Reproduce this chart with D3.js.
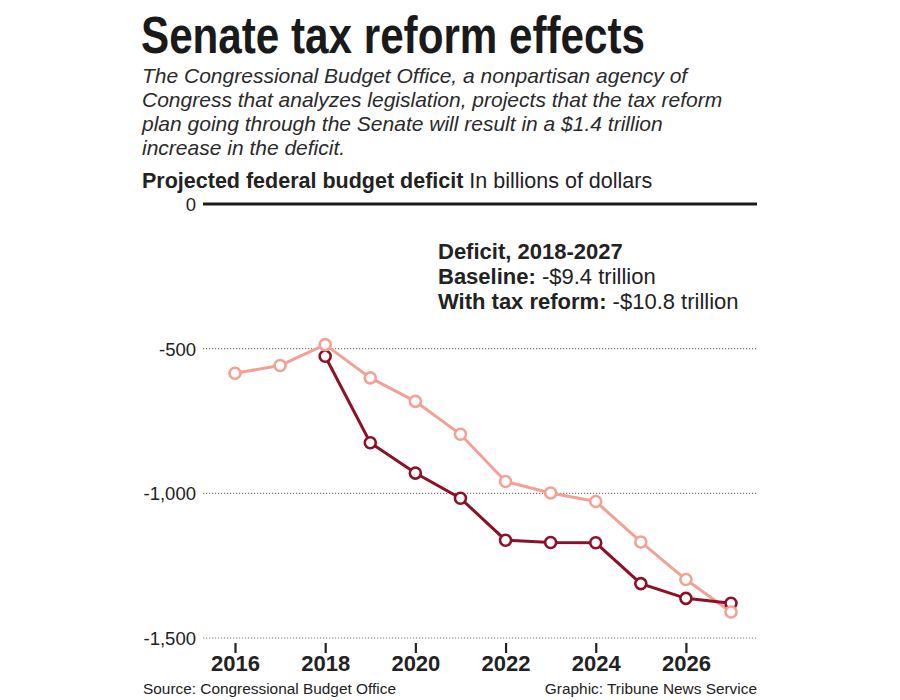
<!DOCTYPE html>
<html>
<head>
<meta charset="utf-8">
<script src="https://cdn.jsdelivr.net/npm/d3@7"></script>
<style>
  html, body { margin: 0; padding: 0; background: #fff; }
  svg { display: block; }
  text { font-family: "Liberation Sans", Arial, sans-serif; fill: #222; }
</style>
</head>
<body>
<svg id="chart" width="900" height="700"></svg>
<script>
const years = [2016, 2017, 2018, 2019, 2020, 2021, 2022, 2023, 2024, 2025, 2026, 2027];
const baseline = [-585, -558, -486, -601, -682, -796, -959, -999, -1028, -1168, -1298, -1410];
const reformYears = [2018, 2019, 2020, 2021, 2022, 2023, 2024, 2025, 2026, 2027];
const reform = [-526, -825, -930, -1017, -1162, -1170, -1171, -1312, -1363, -1380];
const yTicks = [0, -500, -1000, -1500];
const xTicks = [2016, 2018, 2020, 2022, 2024, 2026];

const titleText = "Senate tax reform effects";
const subtitleLines = [
  "The Congressional Budget Office, a nonpartisan agency of",
  "Congress that analyzes legislation, projects that the tax reform",
  "plan going through the Senate will result in a $1.4 trillion",
  "increase in the deficit."
];
const colLight = "#f2a195";
const colDark = "#8c1127";

const svg = d3.select("#chart");

// Title
svg.append("text")
  .attr("x", 141).attr("y", 53)
  .attr("textLength", 504).attr("lengthAdjust", "spacingAndGlyphs")
  .style("font-family", "'Liberation Sans Narrow', 'Liberation Sans', Arial, sans-serif")
  .style("font-weight", "bold").style("font-size", "52px").style("fill", "#1a1a1a")
  .text(titleText);

// Subtitle
svg.append("g").selectAll("text").data(subtitleLines).join("text")
  .attr("x", 142).attr("y", (d, i) => 83 + i * 24)
  .style("font-style", "italic").style("font-size", "21px").style("fill", "#2a2a2a")
  .text(d => d);

// Chart label
const lab = svg.append("text").attr("x", 142).attr("y", 188).style("font-size", "21.5px");
lab.append("tspan").style("font-weight", "bold").text("Projected federal budget deficit");
lab.append("tspan").text(" In billions of dollars");

// Scales
const x = d3.scaleLinear().domain([2016, 2027]).range([235, 731]);
const y = d3.scaleLinear().domain([-1500, 0]).range([638, 204]);

// Y axis
const yAxis = d3.axisLeft(y).tickValues(yTicks).tickSize(0).tickPadding(0)
  .tickFormat(d => d === 0 ? "0" : d3.format(",")(d).replace("−", "-"));
const yg = svg.append("g").attr("transform", "translate(196,0)").call(yAxis);
yg.select(".domain").remove();
yg.selectAll("text").style("font-size", "18.5px").style("font-family", "'Liberation Sans', Arial, sans-serif").attr("fill", "#222").attr("dy", "0.35em");

svg.append("g").selectAll("line").data(yTicks.filter(d => d !== 0)).join("line")
  .attr("x1", 203).attr("x2", 757)
  .attr("y1", d => y(d)).attr("y2", d => y(d))
  .attr("stroke", "#777").attr("stroke-width", 1.2).attr("stroke-dasharray", "1.2,1.8");

svg.append("line")
  .attr("x1", 203).attr("x2", 757).attr("y1", y(0)).attr("y2", y(0))
  .attr("stroke", "#1a1a1a").attr("stroke-width", 3);

// X axis
const xAxis = d3.axisBottom(x).tickValues(xTicks).tickFormat(d3.format("d")).tickSize(10).tickPadding(2);
const xg = svg.append("g").attr("transform", `translate(0,${y(-1500) + 5})`).call(xAxis);
xg.select(".domain").remove();
xg.selectAll("line").attr("stroke", "#222").attr("stroke-width", 2.2);
xg.selectAll("text").style("font-size", "22px").style("font-weight", "bold")
  .style("font-family", "'Liberation Sans Narrow', 'Liberation Sans', Arial, sans-serif").attr("fill", "#222");

// Lines
const line = d3.line().x(d => x(d[0])).y(d => y(d[1]));
const baseData = years.map((yr, i) => [yr, baseline[i]]);
const reformData = reformYears.map((yr, i) => [yr, reform[i]]);

svg.append("path").datum(baseData).attr("d", line)
  .attr("fill", "none").attr("stroke", colLight).attr("stroke-width", 3);
svg.append("path").datum(reformData).attr("d", line)
  .attr("fill", "none").attr("stroke", colDark).attr("stroke-width", 3);

svg.append("g").selectAll("circle").data(reformData).join("circle")
  .attr("cx", d => x(d[0])).attr("cy", d => y(d[1])).attr("r", 5.5)
  .attr("fill", "#fff").attr("stroke", colDark).attr("stroke-width", 2.6);
svg.append("g").selectAll("circle").data(baseData).join("circle")
  .attr("cx", d => x(d[0])).attr("cy", d => y(d[1])).attr("r", 5.5)
  .attr("fill", "#fff").attr("stroke", colLight).attr("stroke-width", 2.6);

// Annotation
const ann = svg.append("g").style("font-size", "22px");
ann.append("text").attr("x", 438).attr("y", 259).style("font-weight", "bold").text("Deficit, 2018-2027");
const a2 = ann.append("text").attr("x", 438).attr("y", 284);
a2.append("tspan").style("font-weight", "bold").text("Baseline:");
a2.append("tspan").text(" -$9.4 trillion");
const a3 = ann.append("text").attr("x", 438).attr("y", 309);
a3.append("tspan").style("font-weight", "bold").text("With tax reform:");
a3.append("tspan").text(" -$10.8 trillion");

// Footer
svg.append("text").attr("x", 143).attr("y", 694).style("font-size", "15.4px").text("Source: Congressional Budget Office");
svg.append("text").attr("x", 757).attr("y", 694).attr("text-anchor", "end").style("font-size", "15.4px").text("Graphic: Tribune News Service");
</script>
</body>
</html>
